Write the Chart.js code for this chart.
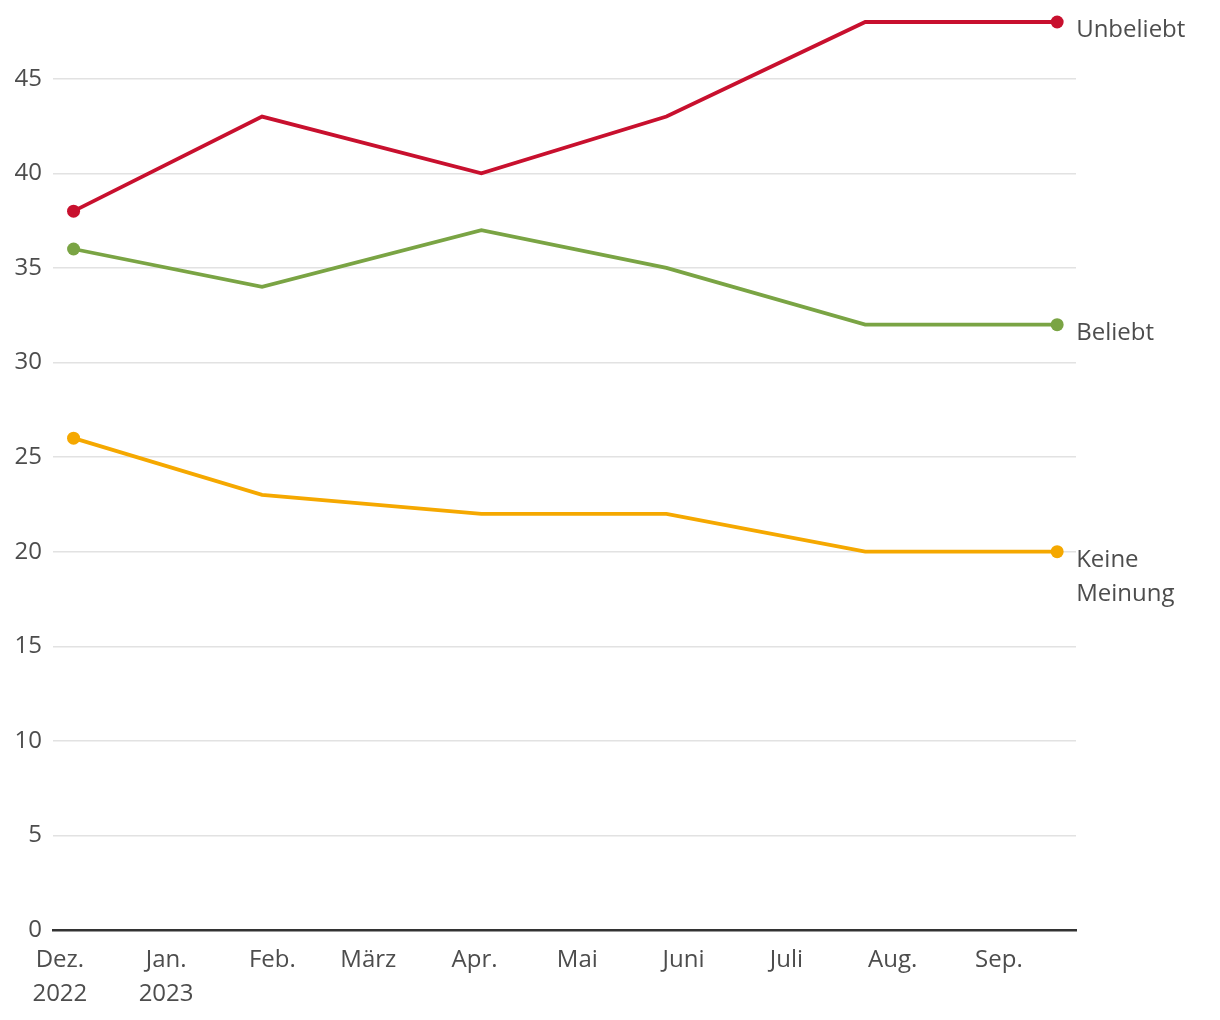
<!DOCTYPE html>
<html><head><meta charset="utf-8">
<script src="https://cdn.jsdelivr.net/npm/chart.js@4/dist/chart.umd.min.js"></script>
<style>html,body{margin:0;padding:0;background:#fff}#wrap{width:1220px;height:1020px}</style>
</head><body><div id="wrap"><canvas id="c" width="1220" height="1020"></canvas></div>
<script>
// Survey dates (points) and values
const surveyDates = ["2022-12-05","2023-01-29","2023-04-03","2023-05-27","2023-07-24","2023-09-18"];
const unbeliebt = [38,43,40,43,48,48];
const beliebt = [36,34,37,35,32,32];
const keineMeinung = [26,23,22,22,20,20];
const seriesNames = ["Unbeliebt","Beliebt","Keine Meinung"];
const monthTickDates = ["2022-12-01","2023-01-01","2023-02-01","2023-03-01","2023-04-01","2023-05-01","2023-06-01","2023-07-01","2023-08-01","2023-09-01"];
const monthTickLabels = [["Dez.","2022"],["Jan.","2023"],"Feb.","März","Apr.","Mai","Juni","Juli","Aug.","Sep."];
const yTicks = [0,5,10,15,20,25,30,35,40,45];

const base = Date.UTC(2022,11,1);
function dayNum(s){const p=s.split('-').map(Number);return (Date.UTC(p[0],p[1]-1,p[2])-base)/86400000;}
const xs = surveyDates.map(dayNum);
const tickDays = monthTickDates.map(dayNum);
const toPts = arr => arr.map((v,i)=>({x:xs[i],y:v}));
const colors = ["#c8102e","#7aa444","#f5a800"];
const FONT = "'Open Sans', sans-serif";
const TXT = "#4d4d4d";

const endLabels = {
  id:'endLabels',
  afterDatasetsDraw(chart){
    const ctx=chart.ctx;
    ctx.save();
    ctx.font = "24px "+FONT;
    ctx.fillStyle = TXT;
    ctx.textAlign='left';ctx.textBaseline='middle';
    chart.data.datasets.forEach((ds,i)=>{
      const meta=chart.getDatasetMeta(i);
      const pt=meta.data[meta.data.length-1];
      const lines = ds.label==="Keine Meinung" ? ["Keine","Meinung"] : [ds.label];
      lines.forEach((l,j)=>ctx.fillText(l, pt.x+19, pt.y+8.5+j*34));
    });
    ctx.restore();
  }
};

const mk = (label,data,color)=>({
  label, data:toPts(data), borderColor:color, backgroundColor:color,
  borderWidth:3.8, tension:0, clip:false,
  pointRadius:(c)=> (c.dataIndex===0||c.dataIndex===data.length-1)?6.5:0,
  pointHoverRadius:6.5, pointBorderWidth:0
});

new Chart(document.getElementById('c'),{
  type:'line',
  data:{datasets:[mk(seriesNames[0],unbeliebt,colors[0]),mk(seriesNames[1],beliebt,colors[1]),mk(seriesNames[2],keineMeinung,colors[2])]},
  options:{
    responsive:false, animation:false,
    layout:{padding:{top:22,right:144,left:0,bottom:0}},
    plugins:{legend:{display:false},tooltip:{enabled:false}},
    scales:{
      x:{type:'linear',min:-2,max:296.5,
        afterBuildTicks(s){s.ticks=tickDays.map(v=>({value:v}));},
        afterFit(s){s.height=90;s.paddingLeft=0;s.paddingRight=0;},
        grid:{display:false},
        border:{display:true,color:'#333',width:2.5},
        ticks:{autoSkip:false,maxRotation:0,padding:5,color:TXT,font:{family:FONT,size:24,lineHeight:1.42},
          callback:(v)=>{const i=tickDays.indexOf(v);return i>=0?monthTickLabels[i]:'';}}
      },
      y:{min:0,max:48,
        afterBuildTicks(s){s.ticks=yTicks.map(v=>({value:v}));},
        afterFit(s){s.width=53;s.paddingTop=0;s.paddingBottom=0;},
        grid:{color:'#e2e2e2',lineWidth:1.5,drawTicks:false},
        border:{display:false},
        ticks:{padding:11,color:TXT,font:{family:FONT,size:24}}
      }
    }
  },
  plugins:[endLabels]
});
</script></body></html>
